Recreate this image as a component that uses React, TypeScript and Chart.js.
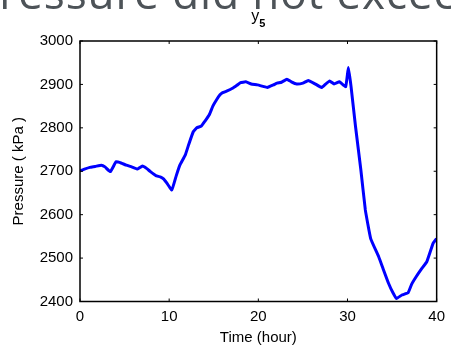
import React, { useEffect, useRef } from "react";
import { Chart, registerables } from "chart.js";

Chart.register(...registerables);

const hours: number[] = [
  0, 0.5, 1.1, 1.7, 2.4, 2.8, 3.4, 4.05, 4.6, 5.2, 5.8, 6.45, 7.0, 7.5, 7.9, 8.5, 9.0, 9.4, 9.76, 10.3,
  10.8, 11.2, 11.8, 12.2, 12.7, 13.1, 13.6, 14.0, 14.5, 14.9, 15.3, 15.7, 16.0, 16.5, 17.1, 17.6, 18.0,
  18.6, 19.2, 19.9, 20.6, 21.0, 21.7, 22.1, 22.6, 23.2, 23.7, 24.3, 25.0, 25.6, 26.3, 27.1, 27.5, 28.0,
  28.5, 29.1, 29.8, 30.1, 30.4, 30.9, 31.5, 32.0, 32.6, 33.5, 34.0, 34.6, 35.1, 35.5, 36.1, 36.8, 37.2,
  37.7, 38.3, 38.9, 39.6, 40,
];
const pressure: number[] = [
  2701, 2705, 2709, 2711, 2714, 2710, 2699, 2722, 2719, 2714, 2710, 2705, 2712, 2706, 2699, 2690, 2687,
  2682, 2672, 2657, 2690, 2714, 2737, 2762, 2791, 2800, 2804, 2815, 2830, 2850, 2864, 2876, 2881, 2885,
  2891, 2898, 2904, 2906, 2901, 2899, 2895, 2893, 2899, 2903, 2905, 2912, 2906, 2901, 2903, 2909, 2902,
  2893, 2900, 2908, 2901, 2906, 2895, 2939, 2895, 2803, 2703, 2611, 2545, 2503, 2475, 2442, 2420, 2407,
  2415, 2420, 2440, 2457, 2475, 2492, 2534, 2545,
];
const xTicks: number[] = [0, 10, 20, 30, 40];
const yTicks: number[] = [2400, 2500, 2600, 2700, 2800, 2900, 3000];

const titleMain = "y";
const titleSub = "5";
const xLabel = "Time (hour)";
const yLabel = "Pressure ( kPa )";
const headline = "Pressure did not exceed";

const FONT = "'Liberation Sans', Arial, Helvetica, sans-serif";

const framePlugin = {
  id: "frame",
  afterDatasetsDraw(chart: any) {
    const { ctx, chartArea } = chart;
    const { left, right, top, bottom } = chartArea;
    const xs = chart.scales.x;
    const ys = chart.scales.y;
    ctx.save();
    ctx.strokeStyle = "#000";
    ctx.lineWidth = 1.5;
    ctx.strokeRect(left, top, right - left, bottom - top);
    ctx.lineWidth = 1;
    const tl = 3;
    ctx.beginPath();
    xTicks.forEach((v) => {
      const px = xs.getPixelForValue(v);
      ctx.moveTo(px, bottom);
      ctx.lineTo(px, bottom - tl);
      ctx.moveTo(px, top);
      ctx.lineTo(px, top + tl);
    });
    yTicks.forEach((v) => {
      const py = ys.getPixelForValue(v);
      ctx.moveTo(left, py);
      ctx.lineTo(left + tl, py);
      ctx.moveTo(right, py);
      ctx.lineTo(right - tl, py);
    });
    ctx.stroke();
    // title with subscript
    const cx = (left + right) / 2;
    ctx.fillStyle = "#000";
    ctx.textBaseline = "alphabetic";
    ctx.textAlign = "left";
    ctx.font = `16px ${FONT}`;
    const wMain = ctx.measureText(titleMain).width;
    ctx.font = `11px ${FONT}`;
    const wSub = ctx.measureText(titleSub).width;
    const startX = cx - (wMain + wSub) / 2;
    ctx.font = `16px ${FONT}`;
    ctx.fillText(titleMain, startX, 21);
    ctx.font = `bold 11px ${FONT}`;
    ctx.fillText(titleSub, startX + wMain, 27);
    ctx.restore();
  },
};

export default function App() {
  const ref = useRef<HTMLCanvasElement | null>(null);
  useEffect(() => {
    document.body.style.margin = "0";
    const canvas = ref.current!;
    const chart = new Chart(canvas, {
      type: "line",
      data: {
        datasets: [
          {
            data: hours.map((h, i) => ({ x: h, y: pressure[i] })),
            borderColor: "#0000ff",
            borderWidth: 3,
            pointRadius: 0,
            tension: 0.1,
            fill: false,
          },
        ],
      },
      options: {
        animation: false,
        responsive: false,
        devicePixelRatio: 1,
        layout: { padding: { left: 0, right: 9, top: 41, bottom: 0 } },
        plugins: { legend: { display: false }, tooltip: { enabled: false }, title: { display: false } },
        scales: {
          x: {
            type: "linear",
            min: 0,
            max: 40,
            afterBuildTicks: (s: any) => {
              s.ticks = xTicks.map((v) => ({ value: v }));
            },
            afterFit: (s: any) => {
              s.height = 45.5;
            },
            ticks: {
              color: "#000",
              font: { size: 15, family: FONT },
              padding: 6,
              maxRotation: 0,
              callback: (v: any) => String(v),
            },
            grid: { display: false, drawTicks: false },
            border: { display: false },
            title: {
              display: true,
              text: xLabel,
              color: "#000",
              font: { size: 15, family: FONT },
              padding: { top: 0, bottom: 0 },
            },
          },
          y: {
            min: 2400,
            max: 3000,
            afterBuildTicks: (s: any) => {
              s.ticks = yTicks.map((v) => ({ value: v }));
            },
            afterFit: (s: any) => {
              s.width = 80;
            },
            ticks: {
              color: "#000",
              font: { size: 15, family: FONT },
              padding: 7,
              callback: (v: any) => String(v),
            },
            grid: { display: false, drawTicks: false },
            border: { display: false },
            title: {
              display: true,
              text: yLabel,
              color: "#000",
              font: { size: 15, family: FONT },
              padding: { top: 9.5, bottom: 0 },
            },
          },
        },
      },
      plugins: [framePlugin],
    });
    return () => chart.destroy();
  }, []);

  return (
    <div style={{ position: "absolute", left: 0, top: 0, width: 451, height: 347, overflow: "hidden", background: "#fff" }}>
      <canvas ref={ref} width={451} height={347} style={{ position: "absolute", left: 0, top: 0 }} />
      <div
        style={{
          position: "absolute",
          left: -28,
          top: -30,
          whiteSpace: "nowrap",
          fontFamily: "'Open Sans', sans-serif",
          fontSize: 44,
          lineHeight: 1,
          letterSpacing: 0.9,
          color: "#4d5358",
        }}
      >
        {headline}
      </div>
    </div>
  );
}
